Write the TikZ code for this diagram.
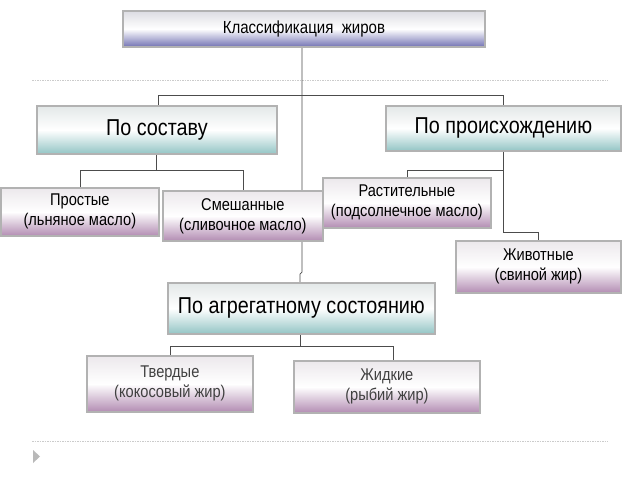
\documentclass[tikz,border=0pt]{standalone}
\usepackage{fontspec}
\setmainfont[FakeStretch=0.86]{Liberation Sans}
\colorlet{cTop}{blue!30!gray!85}
\colorlet{cTopM}{blue!10!gray!25}
\colorlet{cBlu}{cyan!30!gray!65}
\colorlet{cBluM}{cyan!10!gray!20}
\colorlet{cVio}{violet!50!gray!60}
\colorlet{cVioM}{violet!20!gray!15}
\begin{document}
\begin{tikzpicture}[x=1pt,y=-1pt,
  boxb/.style 2 args={draw=gray!60,line width=1.8pt,top color=#2,bottom color=#1,middle color=white,shading angle=0,align=center,inner sep=0pt,anchor=north west},
  conn/.style={draw=black!70,line width=0.7pt},
  dl/.style={draw=gray!40,dash pattern=on 1.5pt off 1pt,line width=1pt}]
\useasboundingbox (0,0) rectangle (640,480);
\fill[white] (0,0) rectangle (640,480);
\draw[dl] (32,80) -- (608,80);
\draw[dl] (32,441) -- (608,441);
\fill[gray!55] (33,450) -- (40,456.5) -- (33,463) -- cycle;
% connectors
\draw[conn] (302,46) -- (302,272) -- (300,274) -- (300,282);
\draw[conn] (158,105) -- (158,95) -- (503,95) -- (503,105);
\draw[conn] (156,153) -- (156,170);
\draw[conn] (80,187) -- (80,170) -- (243,170) -- (243,190);
\draw[conn] (503,150) -- (503,232) -- (538,232) -- (538,240);
\draw[conn] (407,177) -- (407,170) -- (503,170);
\draw[conn] (300,333) -- (300,346);
\draw[conn] (170,355) -- (170,346) -- (393,346) -- (393,360);
% boxes
\node[boxb={cTop}{cTopM},minimum width=362pt,minimum height=36pt,font=\fontsize{17.5}{20}\selectfont] (top) at (122,10) {Классификация\ \ жиров};
\node[boxb={cBlu}{cBluM},minimum width=240pt,minimum height=48pt,font=\fontsize{23}{26}\selectfont] (sost) at (36,105) {По составу};
\node[boxb={cBlu}{cBluM},minimum width=235pt,minimum height=45pt,font=\fontsize{23}{26}\selectfont] (proi) at (385,105) {По происхождению};
\node[boxb={cVio}{cVioM},minimum width=158pt,minimum height=48pt,font=\fontsize{17}{20}\selectfont] (pros) at (0,187) {Простые\\(льняное масло)};
\node[boxb={cVio}{cVioM},minimum width=160pt,minimum height=50pt,font=\fontsize{17}{20}\selectfont] (smes) at (162,190) {Смешанные\\(сливочное масло)};
\node[boxb={cVio}{cVioM},minimum width=168pt,minimum height=50pt,font=\fontsize{17}{20}\selectfont] (rast) at (322,177) {Растительные\\(подсолнечное масло)};
\node[boxb={cVio}{cVioM},minimum width=165pt,minimum height=52pt,font=\fontsize{17}{20}\selectfont] (zhiv) at (455,240) {Животные\\(свиной жир)};
\node[boxb={cBlu}{cBluM},minimum width=267pt,minimum height=51pt,font=\fontsize{23}{26}\selectfont] (agr) at (167,282) {По агрегатному состоянию};
\node[boxb={cVio}{cVioM},minimum width=166pt,minimum height=56pt,font=\fontsize{17}{20}\selectfont,text=black!75] (tver) at (86,355) {Твердые\\(кокосовый жир)};
\node[boxb={cVio}{cVioM},minimum width=186pt,minimum height=52pt,font=\fontsize{17}{20}\selectfont,text=black!75] (zhid) at (293,360) {Жидкие\\(рыбий жир)};
\end{tikzpicture}
\end{document}
